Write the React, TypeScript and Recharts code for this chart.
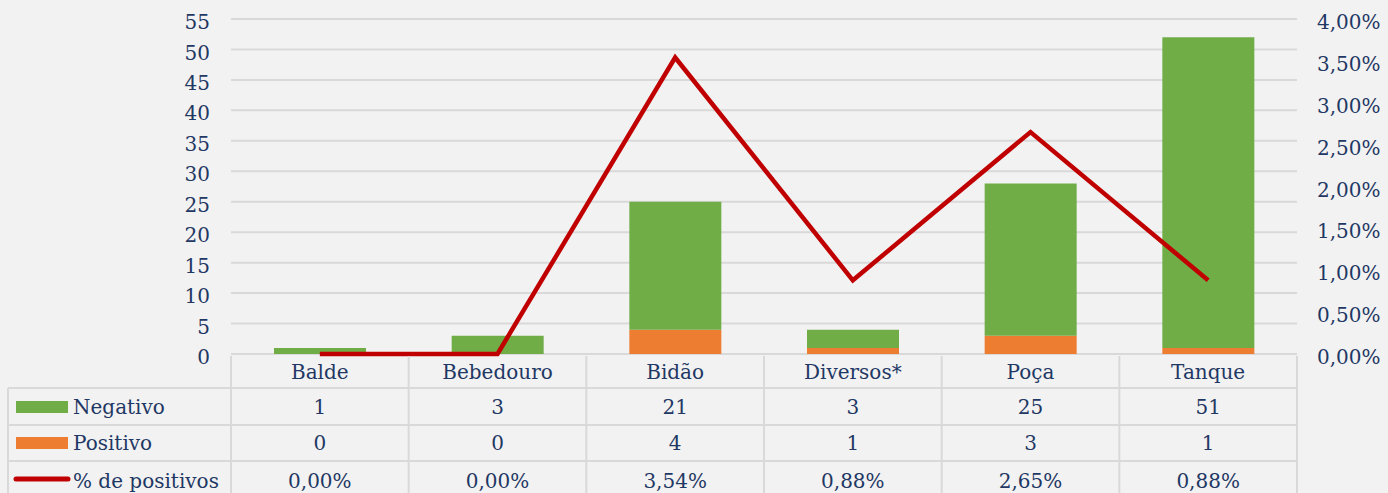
import React from 'react';
import { ComposedChart, Bar, Line, XAxis, YAxis, CartesianGrid } from 'recharts';

const categories = ['Balde', 'Bebedouro', 'Bidão', 'Diversos*', 'Poça', 'Tanque'];
const negativo = [1, 3, 21, 3, 25, 51];
const positivo = [0, 0, 4, 1, 3, 1];
const pctPositivos = [0, 0, 3.54, 0.88, 2.65, 0.88];
const leftTicks = [0, 5, 10, 15, 20, 25, 30, 35, 40, 45, 50, 55];
const rightTicks = [0, 0.5, 1, 1.5, 2, 2.5, 3, 3.5, 4];
const rowLabels = ['Negativo', 'Positivo', '% de positivos'];

const data = categories.map((name, i) => ({
  name,
  negativo: negativo[i],
  positivo: positivo[i],
  pct: pctPositivos[i],
}));

const W = 1388;
const H = 493;
const LEFT_AXIS_W = 231;
const RIGHT_AXIS_W = 91;
const MT = 19;
const XH = 139;
const PLOT_W = W - LEFT_AXIS_W - RIGHT_AXIS_W;
const BAND = PLOT_W / categories.length;

const FONT = '"DejaVu Serif", Georgia, serif';
const TEXT = '#1f3864';
const BORDER = '#d9d9d9';
const GREEN = '#70ad47';
const ORANGE = '#ed7d31';
const RED = '#c00000';
const FS = 20;
const TFS = 20;

const fmtPct = (v: number) => v.toFixed(2).replace('.', ',') + '%';

const rowTops = [34, 71, 107];
const rowH = [37, 36, 40];

const TableTick = (props: any) => {
  const { x, y, payload } = props;
  const i = payload.index;
  const left = x - BAND / 2;
  const right = x + BAND / 2;
  const vals = [String(negativo[i]), String(positivo[i]), fmtPct(pctPositivos[i])];
  return (
    <g>
      <line x1={left} y1={y + 2} x2={left} y2={H} stroke={BORDER} strokeWidth={2} />
      {i === categories.length - 1 && (
        <line x1={right} y1={y + 2} x2={right} y2={H} stroke={BORDER} strokeWidth={2} />
      )}
      <text x={x} y={y + 18} textAnchor="middle" dominantBaseline="central" fontFamily={FONT} fontSize={TFS} fill={TEXT}>
        {payload.value}
      </text>
      {vals.map((v, r) => (
        <text key={r} x={x} y={y + rowTops[r] + rowH[r] / 2} textAnchor="middle" dominantBaseline="central" fontFamily={FONT} fontSize={TFS} fill={TEXT}>
          {v}
        </text>
      ))}
      {i === 0 && (
        <g>
          <line x1={8} y1={y + rowTops[0]} x2={8} y2={H} stroke={BORDER} strokeWidth={2} />
          {rowTops.map((t, r) => (
            <line key={r} x1={8} y1={y + t} x2={LEFT_AXIS_W + PLOT_W} y2={y + t} stroke={BORDER} strokeWidth={2} />
          ))}
          <rect x={16} y={y + 47} width={52} height={12} fill={GREEN} />
          <rect x={16} y={y + 83} width={52} height={12} fill={ORANGE} />
          <line x1={16} y1={y + 125} x2={68} y2={y + 125} stroke={RED} strokeWidth={5} strokeLinecap="round" />
          {rowLabels.map((l, r) => (
            <text key={r} x={73} y={y + rowTops[r] + rowH[r] / 2} dominantBaseline="central" fontFamily={FONT} fontSize={TFS} fill={TEXT}>
              {l}
            </text>
          ))}
        </g>
      )}
    </g>
  );
};

export default function App() {
  return (
    <div style={{ position: 'absolute', left: 0, top: 0, width: W, height: H, background: '#f2f2f2' }}>
      <ComposedChart width={W} height={H} data={data} margin={{ top: MT, right: 0, bottom: 0, left: 0 }} barCategoryGap={0}>
        <CartesianGrid vertical={false} stroke={BORDER} strokeWidth={2} yAxisId="left" />
        <XAxis
          dataKey="name"
          interval={0}
          tickLine={false}
          tickSize={0}
          tickMargin={0}
          axisLine={false}
          tick={<TableTick />}
          height={XH}
        />
        <YAxis
          yAxisId="left"
          width={LEFT_AXIS_W}
          domain={[0, 55]}
          ticks={leftTicks}
          interval={0}
          axisLine={false}
          tickLine={false}
          tickSize={0}
          tickMargin={21}
          tick={{ fill: TEXT, fontSize: FS, fontFamily: FONT, dy: 3 }}
        />
        <YAxis
          yAxisId="right"
          orientation="right"
          width={RIGHT_AXIS_W}
          domain={[0, 4]}
          ticks={rightTicks}
          interval={0}
          axisLine={false}
          tickLine={false}
          tickSize={0}
          tickMargin={20}
          tickFormatter={fmtPct}
          tick={{ fill: TEXT, fontSize: FS, fontFamily: FONT, dy: 3, textAnchor: 'start' }}
        />
        <Bar yAxisId="left" dataKey="positivo" stackId="a" fill={ORANGE} barSize={92} isAnimationActive={false} />
        <Bar yAxisId="left" dataKey="negativo" stackId="a" fill={GREEN} barSize={92} isAnimationActive={false} />
        <Line yAxisId="right" dataKey="pct" type="linear" stroke={RED} strokeWidth={4.5} dot={false} activeDot={false} isAnimationActive={false} />
      </ComposedChart>
    </div>
  );
}
